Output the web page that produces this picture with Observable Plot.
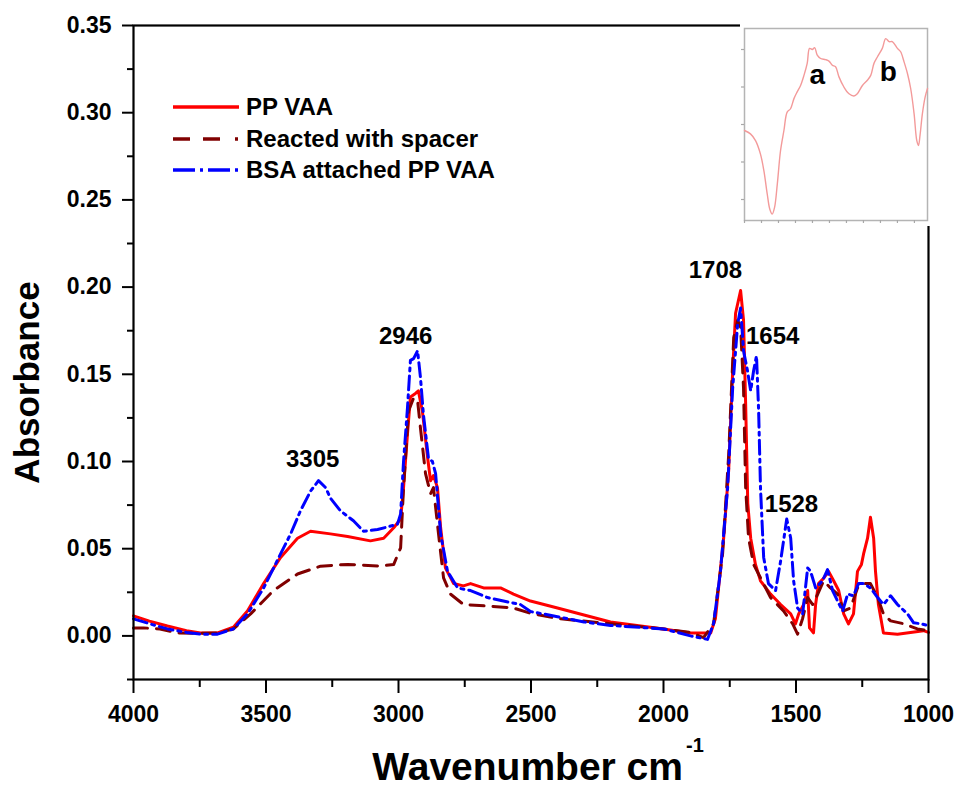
<!DOCTYPE html>
<html><head><meta charset="utf-8">
<script src="https://cdn.jsdelivr.net/npm/d3@7"></script>
<script src="https://cdn.jsdelivr.net/npm/@observablehq/plot@0.6"></script>
<style>
body{margin:0;background:#fff;}
#wrap{position:relative;width:958px;height:788px;font-family:"Liberation Sans",Arial,sans-serif;}
#inset{position:absolute;left:740px;top:0;}
.row{position:absolute;left:173px;height:26px;display:flex;align-items:center;white-space:nowrap;font-weight:bold;font-size:24px;color:#000;}
.row svg{margin-right:7px;}
</style></head>
<body><div id="wrap"><div id="main"></div><div id="inset"></div><div id="legend"></div></div>
<script>
// ---- series names / styles ----
const seriesNames = ["PP VAA", "Reacted with spacer", "BSA attached PP VAA"];
const seriesColors = ["#ff0000", "#800000", "#0000ff"];

// ---- PP VAA ----
const ppWn = [4000,3940,3872,3800,3747,3683,3623,3570,3509,3445,3381,3332,3257,3192,3106,3056,3018,2992,2981,2966,2955,2936,2925,2910,2890,2879,2868,2853,2841,2823,2792,2755,2728,2679,2615,2566,2502,2400,2300,2200,2100,2000,1898,1822,1804,1773,1754,1739,1728,1709,1698,1690,1682,1671,1653,1634,1596,1558,1520,1502,1490,1471,1456,1449,1434,1426,1415,1396,1377,1358,1339,1320,1302,1283,1268,1253,1245,1230,1219,1207,1200,1189,1170,1117,1019,1000];
const ppAbs = [0.0115,0.0085,0.0057,0.003,0.0017,0.0017,0.005,0.0143,0.030,0.045,0.056,0.060,0.0585,0.057,0.0545,0.056,0.062,0.067,0.085,0.116,0.137,0.139,0.1405,0.129,0.102,0.089,0.092,0.085,0.062,0.039,0.030,0.0287,0.030,0.0275,0.0275,0.024,0.020,0.016,0.012,0.008,0.006,0.004,0.0017,0.0017,0.010,0.056,0.095,0.152,0.185,0.198,0.181,0.133,0.076,0.056,0.041,0.0316,0.024,0.018,0.0126,0.0069,0.0126,0.018,0.026,0.0046,0.0017,0.018,0.030,0.033,0.037,0.0316,0.026,0.0126,0.0069,0.0126,0.037,0.041,0.047,0.056,0.068,0.056,0.037,0.018,0.0017,0.001,0.003,0.002];

// ---- Reacted with spacer ----
const spWn = [4000,3962,3900,3834,3750,3683,3623,3558,3472,3381,3294,3192,3068,3018,2992,2981,2962,2943,2928,2917,2898,2879,2868,2849,2830,2804,2755,2653,2566,2502,2400,2200,2000,1900,1849,1811,1777,1754,1735,1720,1709,1698,1690,1679,1660,1634,1596,1547,1513,1494,1475,1456,1437,1418,1396,1370,1343,1320,1294,1268,1245,1219,1192,1170,1143,1094,1042,1004];
const spAbs = [0.0046,0.0046,0.004,0.0017,0.0015,0.0017,0.004,0.0126,0.026,0.0355,0.040,0.041,0.040,0.041,0.0505,0.085,0.129,0.1365,0.135,0.119,0.093,0.0815,0.085,0.0585,0.0333,0.024,0.018,0.017,0.016,0.013,0.010,0.007,0.004,0.002,-0.001,0.007,0.047,0.104,0.171,0.181,0.177,0.142,0.085,0.056,0.041,0.0333,0.022,0.0143,0.007,0.001,0.010,0.022,0.018,0.024,0.0316,0.0275,0.024,0.0143,0.016,0.0275,0.030,0.030,0.022,0.0126,0.0086,0.007,0.004,0.003];

// ---- BSA attached PP VAA ----
const bsaWn = [4000,3940,3872,3800,3747,3683,3623,3570,3509,3445,3407,3370,3332,3302,3275,3257,3219,3170,3132,3079,3041,3004,2992,2981,2966,2955,2943,2928,2917,2906,2887,2872,2860,2841,2815,2777,2728,2664,2604,2540,2502,2400,2300,2200,2000,1898,1834,1811,1785,1758,1739,1720,1709,1698,1683,1671,1660,1649,1641,1634,1622,1604,1577,1558,1535,1520,1509,1494,1475,1456,1445,1426,1400,1381,1362,1343,1324,1305,1283,1264,1245,1219,1192,1170,1143,1117,1079,1056,1030,1004];
const bsaAbs = [0.0098,0.007,0.004,0.002,0.001,0.001,0.004,0.0126,0.0275,0.047,0.0585,0.0717,0.083,0.089,0.085,0.079,0.0717,0.066,0.060,0.061,0.0625,0.064,0.070,0.100,0.131,0.158,0.159,0.1635,0.148,0.127,0.102,0.100,0.093,0.0585,0.037,0.0275,0.026,0.022,0.020,0.018,0.014,0.011,0.008,0.006,0.004,0.000,-0.002,0.007,0.037,0.085,0.142,0.179,0.188,0.1635,0.152,0.1405,0.152,0.1606,0.129,0.085,0.045,0.030,0.026,0.043,0.067,0.056,0.0316,0.016,0.0126,0.039,0.037,0.0275,0.0316,0.038,0.026,0.020,0.0143,0.024,0.023,0.030,0.030,0.0275,0.022,0.018,0.023,0.018,0.0126,0.0075,0.007,0.006];

// ---- ticks ----
const xTicks = [4000, 3500, 3000, 2500, 2000, 1500, 1000];
const xMinorTicks = [3750, 3250, 2750, 2250, 1750, 1250];
const yTicks = [0, 0.05, 0.10, 0.15, 0.20, 0.25, 0.30, 0.35];
const yMinorTicks = [-0.025, 0.025, 0.075, 0.125, 0.175, 0.225, 0.275, 0.325];

// ---- peak annotations ----
const peakLabels = ["3305", "2946", "1708", "1654", "1528"];
const peakLabelWn = [3324, 2973, 1804, 1588, 1517];
const peakLabelAbs = [0.1015, 0.172, 0.2094, 0.172, 0.0757];

// ---- inset (arbitrary units) ----
const insetX = [0,0.35,0.65,0.94,1.14,1.34,1.49,1.63,1.77,1.93,2.12,2.32,2.51,2.71,2.91,3.10,3.30,3.50,3.69,3.83,3.99,4.13,4.28,4.48,4.77,4.97,5.17,5.36,5.56,5.85,6.15,6.44,6.64,6.94,7.23,7.43,7.62,7.82,8.11,8.31,8.51,8.70,9.00,9.19,9.39,9.59,9.78,9.98,10.14,10.24,10.33,10.47,10.63,10.77];
const insetY = [2.84,2.75,2.57,2.21,1.77,1.14,0.74,0.61,0.79,1.41,2.30,2.84,3.33,3.42,3.69,3.87,4.04,4.31,4.63,5.03,5.00,5.05,4.85,4.76,4.73,4.69,4.58,4.54,4.27,4.00,3.82,3.76,3.82,4.04,4.18,4.31,4.63,4.80,5.03,5.29,5.21,5.21,5.03,4.94,4.67,4.36,3.96,3.29,2.57,2.44,2.71,3.29,3.73,3.96];
const insetXTicks = [0,1,2,3,4,5,6,7,8,9,10];
const insetYTicks = [1,2,3,4,5];
const insetLabels = ["a", "b"];
const insetLabelX = [4.29, 8.47];
const insetLabelY = [4.31, 4.39];

// ---- build tables ----
const toRows = (wn, ab) => wn.map((w, i) => ({wn: w, abs: ab[i]}));
const ppData = toRows(ppWn, ppAbs);
const spData = toRows(spWn, spAbs);
const bsaData = toRows(bsaWn, bsaAbs);
const FONT = "'Liberation Sans', Arial, sans-serif";
const blank = () => "";

const main = Plot.plot({
  width: 958, height: 788,
  marginLeft: 133, marginRight: 30, marginTop: 25, marginBottom: 109,
  x: {domain: [4000, 1000]},
  y: {domain: [-0.025, 0.35]},
  style: {fontFamily: FONT, fontWeight: "bold", background: "white", color: "black", overflow: "visible"},
  marks: [
    Plot.line(ppData, {x: "wn", y: "abs", stroke: seriesColors[0], strokeWidth: 3, strokeLinejoin: "round"}),
    Plot.line(spData, {x: "wn", y: "abs", stroke: seriesColors[1], strokeWidth: 3, strokeDasharray: "14,9"}),
    Plot.line(bsaData, {x: "wn", y: "abs", stroke: seriesColors[2], strokeWidth: 3, strokeDasharray: "14,5,3,5"}),
    Plot.frame({stroke: "black", strokeWidth: 2.2}),
    Plot.axisX(xTicks, {tickSize: 14, tickPadding: 12, strokeWidth: 2, fontSize: 23, fontWeight: "bold", tickFormat: d3.format("d"), label: null}),
    Plot.axisX(xMinorTicks, {tickSize: 8, strokeWidth: 2, tickFormat: blank, label: null}),
    Plot.axisY(yTicks, {tickSize: 11, tickPadding: 11, strokeWidth: 2, fontSize: 23, fontWeight: "bold", tickFormat: d3.format(".2f"), label: null}),
    Plot.axisY(yMinorTicks, {tickSize: 6, strokeWidth: 2, tickFormat: blank, label: null}),
    Plot.text(peakLabels, {x: (d, i) => peakLabelWn[i], y: (d, i) => peakLabelAbs[i], text: d => d, fontSize: 24, fontWeight: "bold", fill: "black"}),
    Plot.text(["Absorbance"], {text: d => d, frameAnchor: "left", textAnchor: "middle", lineAnchor: "middle", dx: -106, dy: 30, rotate: -90, fontSize: 35, fontWeight: "bold", fill: "black"}),
    Plot.text(["Wavenumber cm"], {text: d => d, frameAnchor: "bottom", textAnchor: "end", lineAnchor: "middle", dx: 152, dy: 88, fontSize: 39, fontWeight: "bold", fill: "black"}),
    Plot.text(["-1"], {text: d => d, frameAnchor: "bottom", textAnchor: "start", lineAnchor: "middle", dx: 155, dy: 66, fontSize: 20, fontWeight: "bold", fill: "black"})
  ]
});
document.getElementById("main").appendChild(main);

const insetData = insetX.map((x, i) => ({x, y: insetY[i]}));
const inset = Plot.plot({
  width: 218, height: 226,
  marginLeft: 4, marginRight: 31, marginTop: 28, marginBottom: 6,
  x: {domain: [0, 10.77]},
  y: {domain: [0.44, 5.56]},
  style: {fontFamily: FONT, fontWeight: "bold", background: "white", overflow: "visible"},
  marks: [
    Plot.frame({stroke: "#b4b4b4", strokeWidth: 1.5}),
    Plot.axisX(insetXTicks, {tickSize: 3, stroke: "#a8a8a8", strokeWidth: 1.2, tickFormat: blank, label: null}),
    Plot.axisY(insetYTicks, {tickSize: 3, stroke: "#a8a8a8", strokeWidth: 1.2, tickFormat: blank, label: null}),
    Plot.line(insetData, {x: "x", y: "y", stroke: "#f39a9a", strokeWidth: 1.4, curve: "catmull-rom"}),
    Plot.text(insetLabels, {x: (d, i) => insetLabelX[i], y: (d, i) => insetLabelY[i], text: d => d, fontSize: 28, fontWeight: "bold", fill: "black"})
  ]
});
document.getElementById("inset").appendChild(inset);

// ---- legend ----
const legendDash = [null, "17,13,17,15,3,60", "22,5,3,5"];
const legendTops = [94, 126, 157];
const legend = document.getElementById("legend");
seriesNames.forEach((name, i) => {
  const row = document.createElement("div");
  row.className = "row";
  row.style.top = legendTops[i] + "px";
  const dash = legendDash[i] ? `stroke-dasharray="${legendDash[i]}"` : "";
  row.innerHTML = `<svg width="66" height="8"><line x1="0" y1="4" x2="66" y2="4" stroke="${seriesColors[i]}" stroke-width="3.5" ${dash}/></svg><span>${name}</span>`;
  legend.appendChild(row);
});
</script>
</body></html>
